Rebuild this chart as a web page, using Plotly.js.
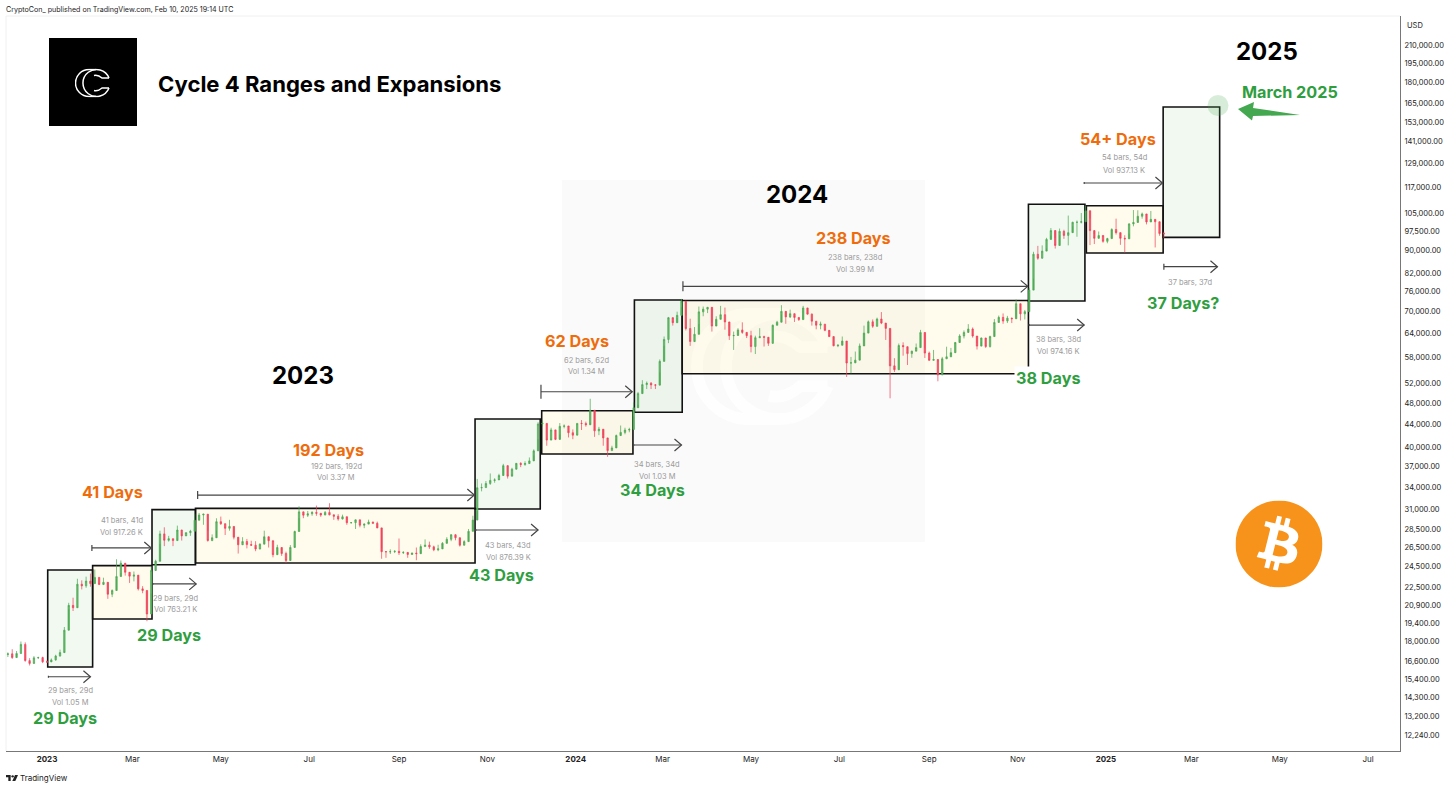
<!DOCTYPE html>
<html>
<head>
<meta charset="utf-8">
<script src="https://cdn.plot.ly/plotly-3.0.1.min.js"></script>
<style>body{margin:0;background:#fff}</style>
</head>
<body>
<div id="graphDiv" style="width:1456px;height:788px"></div>
<script>
// BTCUSD cycle 4 ranges, 3 day candles
const candleStart = '2022-12-05'
const candleFirstOpen = 17050
const candleClose = [
17100,16840,17130,17780,16630,16440,16820,16840,16550,16540,
16680,16950,17190,18850,20880,20680,22780,22630,23080,22840,
23430,22760,22960,21860,22200,23520,24840,23930,23550,23650,
22350,22200,20150,24110,25040,28030,27300,27480,27270,28480,
27800,28170,28330,29650,30300,30400,27270,27590,29480,29230,
28680,28900,27650,26800,27160,26820,26750,26340,26870,27700,
27250,25730,26500,25850,25120,26510,28310,30690,30270,30450,
30620,30510,30290,30620,30320,30140,29800,30080,29350,29360,
29700,29050,29180,29430,29280,28730,26050,26040,26050,26090,
25940,25970,25750,25900,25840,26600,26760,26570,26250,26350,
26960,27410,27930,27590,26750,27150,28330,29670,33900,33920,
34500,34940,35010,35650,37130,35550,36590,37480,37300,37450,
37860,39460,44080,44180,41250,43020,41370,43650,43720,42520,
42100,44180,44160,43940,46630,42850,43140,41620,39500,39940,
42030,42580,42990,43090,47130,49960,51840,52130,51780,51730,
57050,62440,68300,66900,68960,73080,65300,61900,63780,69950,
70740,71280,65980,67840,69140,67110,63420,63470,64940,64280,
63420,60640,62890,63160,63000,61470,66200,67040,70100,68520,
69430,68360,67760,71090,69300,67320,66220,66500,64830,63180,
60840,60970,62030,56660,56700,57340,60800,64100,67150,65930,
67900,66800,65350,56000,55120,60900,60600,58900,59500,60380,
64250,59030,57300,57480,53950,57650,58130,59130,61660,63340,
64270,65180,63330,60750,62820,60630,63190,66960,68390,67360,
68170,68000,72340,69380,70020,76510,88700,87250,89850,94290,
97780,91960,97460,95860,96950,101170,101170,101400,106100,97760,
94700,95800,93530,94590,98220,96950,94700,94500,100500,101100,
103700,104700,101300,102400,101400,96600,96500]
const candleHigh = [
17200,17430,17300,17990,17930,16800,16940,16900,16900,16640,
16780,17040,17400,19100,21100,21550,23300,23150,23500,23800,
24200,23450,23400,21900,22300,25250,25120,24600,23700,24000,
22400,22600,20350,24500,25200,28400,28800,27800,27500,29000,
28500,28200,28500,30450,30550,30450,28400,27970,29890,30100,
29250,29700,27800,27050,27650,27450,27250,27200,26950,28400,
27300,27100,26800,26200,26050,26770,28400,31400,30650,30800,
30780,31500,30400,30800,31800,30340,30400,30340,29680,29420,
29730,29300,29250,29720,29480,29480,26400,26120,26300,26200,
27500,26100,25880,25950,26500,26850,27400,27150,26700,26800,
27100,27650,28000,27990,26850,27300,28600,30200,35150,34500,
34850,35950,35250,35900,37400,37000,36800,37500,37650,37800,
38400,39700,44400,44700,43800,43400,42700,44250,44000,43600,
43100,44200,44800,44500,48900,43000,43550,42100,41400,40300,
42200,43800,43400,43400,48200,50300,52800,52500,52400,51950,
57500,63200,68500,67900,70000,73780,68900,68000,65700,71500,
71500,71300,66900,68700,71700,71200,66800,64500,65400,67000,
63900,64700,63400,65400,63400,61800,66400,67400,71900,69200,
70600,69500,68400,71700,69500,69500,67300,67200,66500,64500,
62400,61200,63200,57500,58100,59400,61400,66100,67500,67800,
68300,69900,65600,60400,57800,61400,61700,59800,59600,61400,
64950,60200,59400,59800,57000,58100,60600,60300,61800,63800,
64800,66500,65600,61400,62900,62500,63400,67900,68900,69500,
68800,68300,73600,70500,70500,77200,89600,91800,92000,94900,
98800,94900,98600,98100,104000,101400,101900,105100,108300,102800,
96400,97400,95200,94900,98700,102700,95800,95900,100800,106400,
106300,105300,103700,106000,102500,99000,97300]
const candleLow = [
16880,16750,17060,17100,16560,16300,16500,16750,16460,16470,
16540,16620,16900,17300,20550,20400,20800,22300,22450,22550,
23250,22700,22700,21450,21600,23300,23850,23600,22900,23050,
22200,21950,19560,21900,24150,26900,26650,27150,26650,27500,
27270,27850,27800,29600,30220,29100,27150,27200,28400,29080,
27900,28400,27400,25850,26870,26400,26700,26100,26300,27600,
26500,25450,26300,25600,24850,26170,26650,29900,29900,30050,
30200,30200,30070,30330,30250,29700,29600,29750,29100,29250,
28600,28800,28700,29330,29240,28700,25300,25400,25800,25900,
25700,25800,25400,25800,25150,26200,26600,26350,26100,26100,
26860,27200,27200,27300,26600,26800,28200,29500,30800,33400,
33900,34300,34600,35100,36800,35200,35900,36700,36900,37100,
37600,38700,41400,43600,40300,41500,41250,42200,43300,41700,
41400,42200,43000,43600,44300,41800,42100,40300,38500,39500,
41500,42300,42250,42600,45500,47700,51300,50900,50900,50900,
54500,60800,61500,66100,68200,71300,64800,60800,62200,66500,
68700,69600,64500,67450,68300,65000,62300,59800,64500,63900,
62800,59200,58800,62800,60650,60800,61300,66600,69200,66600,
68200,67100,67400,70400,69200,66100,65100,65100,64600,63100,
60700,60500,61800,53500,54300,57100,59500,63900,66400,65500,
65800,66500,62300,49000,54600,60300,58400,56200,57900,59800,
63800,57850,57200,57200,52550,54600,57650,59000,59200,62400,
62700,64800,62900,59900,61800,60300,60400,64700,67400,66600,
66800,66800,71500,67500,67800,75600,80200,86700,87100,90800,
95800,90800,95900,94500,92000,99500,95300,100700,105300,92100,
92500,95200,93000,92800,97800,96200,92200,89300,96500,99500,
103100,102700,100300,101600,91200,95700,94800]

// range and expansion boxes
const boxKind = ['up','range','up','range','up','range','up','range','up','range','up']
const boxStart = ['2023-01-01 12:00','2023-02-01 12:00','2023-03-14 12:00','2023-04-13 12:00','2023-10-23 12:00','2023-12-08 12:00','2024-02-10 12:00','2024-03-14 12:00','2024-11-08 12:00','2024-12-18 12:00','2025-02-09 12:00']
const boxEnd = ['2023-02-01 12:00','2023-03-14 12:00','2023-04-13 12:00','2023-10-23 12:00','2023-12-07 12:00','2024-02-09 12:00','2024-03-14 12:00','2024-11-08 12:00','2024-12-17 12:00','2025-02-09 12:00','2025-03-20 12:00']
const boxTop = [24155,24590,30980,31130,44990,46550,73450,73300,108950,108320,162650]
const boxBottom = [16195,19740,24690,24860,31050,38960,46250,54210,73140,89150,95080]

// date range rulers
const rulerStart = ['2023-01-02','2023-02-01','2023-03-15','2023-04-15','2023-10-24','2023-12-08','2024-02-10','2024-03-15','2024-11-09','2024-12-17','2025-02-10']
const rulerEnd = ['2023-01-31','2023-03-14','2023-04-14','2023-10-23','2023-12-06','2024-02-09','2024-03-14','2024-11-08','2024-12-17','2025-02-09','2025-03-19']
const rulerPrice = [15560,26450,22810,32890,28480,50340,40420,77700,66260,118950,84260]
const rulerTail = [1,3,1,4,1,7,1,5,1,1,3]

const yTicks = [210000,195000,180000,165000,153000,141000,129000,117000,105000,97500,90000,82000,76000,70000,64000,58000,52000,48000,44000,40000,37000,34000,31000,28500,26500,24500,22500,20900,19400,18000,16600,15400,14300,13200,12240]
const xTicks = ['2023-01-01','2023-03-01','2023-05-01','2023-07-01','2023-09-01','2023-11-01','2024-01-01','2024-03-01','2024-05-01','2024-07-01','2024-09-01','2024-11-01','2025-01-01','2025-03-01','2025-05-01','2025-07-01']
const xLabels = ['<b>2023</b>','Mar','May','Jul','Sep','Nov','<b>2024</b>','Mar','May','Jul','Sep','Nov','<b>2025</b>','Mar','May','Jul']

const orange = '#ee6c0c'
const green = '#2f9e3f'
const gray = '#9a9a9a'
const bigLabels = [
    ['41 Days',113,492,orange],['192 Days',328,450,orange],['62 Days',577,341,orange],['238 Days',854,238,orange],['54+ Days',1118,139,orange],
    ['29 Days',65,718,green],['29 Days',169,635,green],['43 Days',501,575,green],['34 Days',652,490,green],['37 Days?',1183,303,green],['March 2025',1290,92,green]
]
const statLabels = [
    ['29 bars, 29d',70,690],['Vol 1.05 M',70,702],['41 bars, 41d',122,520,],['Vol 917.26 K',122,532],
    ['29 bars, 29d',175,598],['Vol 763.21 K',175,609],['192 bars, 192d',336,466],['Vol 3.37 M',336,477],
    ['43 bars, 43d',508,545],['Vol 876.39 K',508,557],['62 bars, 62d',586,360],['Vol 1.34 M',586,371],
    ['34 bars, 34d',657,464],['Vol 1.03 M',657,476],['238 bars, 238d',855,257],['Vol 3.99 M',855,269],
    ['38 bars, 38d',1058,339],['Vol 974.16 K',1058,351],['54 bars, 54d',1124,158],['Vol 937.13 K',1124,170],['37 bars, 37d',1190,282]
]
const yearLabels = [['2023',303,375],['2024',797,195],['2025',1267,51]]

// plot box in page pixels, only used to place the drawing tool texts
const W = 1456, H = 788, mL = 6, mR = 56, mT = 16, mB = 37
const px = x => (x - mL) / (W - mL - mR)
const py = y => 1 - (y - mT) / (H - mT - mB)
const fam = 'Inter, "Liberation Sans", sans-serif'

let candleDates = candleClose.map((_, i) => {
    let d = new Date(candleStart + 'T00:00:00Z')
    d.setUTCDate(d.getUTCDate() + i * 3)
    return d.toISOString().slice(0, 10)
})
let candleOpen = [candleFirstOpen, ...candleClose.slice(0, -1)]

function note(text, x, y, size, color, anchor='center', extra={}) {
    return Object.assign({
        text: text, x: px(x), y: py(y), xref: 'paper', yref: 'paper', showarrow: false,
        xanchor: anchor, yanchor: 'middle', font: {family: fam, size: size, color: color}
    }, extra)
}

let annotations = []
bigLabels.forEach(l => annotations.push(note(`<b>${l[0]}</b>`, l[1], l[2], 16.2, l[3])))
annotations.push(note('<b>38 Days</b>', 1048, 378, 16.2, green, 'center', {bgcolor: '#fff', borderpad: 1}))
statLabels.forEach(l => annotations.push(note(l[0], l[1], l[2], 7.5, gray)))
yearLabels.forEach(l => annotations.push(note(`<b>${l[0]}</b>`, l[1], l[2], 24, '#000')))
annotations.push(note('<b>Cycle 4 Ranges and Expansions</b>', 156, 84, 22.1, '#000', 'left'))
annotations.push(note('CryptoCon_ published on TradingView.com, Feb 10, 2025 19:14 UTC', 4, 9, 7.1, '#222', 'left'))
annotations.push(note('TradingView', 18, 778, 8, '#222', 'left'))
annotations.push(note('USD', 1405, 25, 7.5, '#222', 'left'))

let shapes = []
// faint frame of the published picture
shapes.push({type: 'line', xref: 'paper', yref: 'paper', x0: 0, x1: 1, y0: 1, y1: 1, line: {color: '#f0f0f0', width: 1}})
shapes.push({type: 'line', xref: 'paper', yref: 'paper', x0: 0, x1: 0, y0: 0, y1: 1, line: {color: '#f0f0f0', width: 1}})

boxKind.forEach((k, i) => {
    shapes.push({
        type: 'rect', x0: boxStart[i], x1: boxEnd[i], y0: boxBottom[i], y1: boxTop[i], layer: 'below',
        fillcolor: k == 'up' ? 'rgba(76,175,80,0.08)' : 'rgba(255,193,7,0.07)',
        line: {color: '#111', width: 1.6}
    })
})

rulerStart.forEach((s, i) => {
    let c = {color: '#444', width: 1.2}
    shapes.push({type: 'line', x0: s, x1: rulerEnd[i], y0: rulerPrice[i], y1: rulerPrice[i], line: c})
    shapes.push({type: 'path', xsizemode: 'pixel', ysizemode: 'pixel', xanchor: rulerEnd[i], yanchor: rulerPrice[i], path: 'M-7,-6 L0,0 L-7,6', line: c})
    shapes.push({type: 'path', xsizemode: 'pixel', ysizemode: 'pixel', xanchor: s, yanchor: rulerPrice[i], path: `M0,-${rulerTail[i]} L0,${rulerTail[i]}`, line: c})
})

// target marker and arrow for March 2025
shapes.push({type: 'circle', xref: 'paper', yref: 'paper', xsizemode: 'pixel', ysizemode: 'pixel', xanchor: px(1218), yanchor: py(105.5), x0: -10.5, x1: 10.5, y0: -10.5, y1: 10.5, fillcolor: 'rgba(76,175,80,0.22)', line: {width: 0}})
shapes.push({type: 'path', xref: 'paper', yref: 'paper', xsizemode: 'pixel', ysizemode: 'pixel', xanchor: px(1238), yanchor: py(109), path: 'M0,0 L16,7 L15,1 L62,-6 L15,-7 L14,-11.5 Z', fillcolor: '#43a84f', line: {width: 0}})

// logos
function svgUrl(svg) {
    return 'data:image/svg+xml;charset=utf-8,' + encodeURIComponent(svg)
}
function ccPaths(color, stroke) {
    return `<g fill="none" stroke="${color}" stroke-width="${stroke}" stroke-linejoin="round">
<path d="M21,1 L14,1 A13.5,13.5 0 0 0 14,28 L21,28"/>
<path d="M34,9.5 A13.5,13.5 0 1 0 34,19.5"/>
<path d="M34,9.5 L27,9.5 Q23,6 19,7"/><path d="M34,19.5 L27,19.5 Q23,23 19,22"/></g>`
}
const watermark = svgUrl(`<svg xmlns="http://www.w3.org/2000/svg" viewBox="0 0 363 362"><rect width="363" height="362" fill="#fafafa"/><g transform="translate(133,130) scale(3.9)">${ccPaths('#fefefe', 3)}</g></svg>`)
const ccSmall = svgUrl(`<svg xmlns="http://www.w3.org/2000/svg" viewBox="0 0 36 29">${ccPaths('#ffffff', 1.5)}</svg>`)
const btc = svgUrl(`<svg xmlns="http://www.w3.org/2000/svg" viewBox="0 0 64 64"><path fill="#f7931a" d="M63.04 39.741c-4.274 17.143-21.638 27.575-38.783 23.301C7.12 58.768-3.313 41.404.962 24.262 5.234 7.117 22.597-3.317 39.737.957c17.144 4.274 27.576 21.64 23.302 38.784z"/><path fill="#fff" d="M46.11 27.441c.636-4.258-2.606-6.547-7.039-8.074l1.438-5.768-3.512-.875-1.4 5.616c-.922-.23-1.87-.447-2.812-.662l1.41-5.653-3.509-.875-1.439 5.766c-.764-.174-1.514-.346-2.242-.527l.004-.018-4.842-1.209-.934 3.75s2.605.597 2.55.634c1.422.355 1.68 1.296 1.636 2.042l-1.638 6.571c.098.025.225.061.365.117l-.37-.092-2.297 9.205c-.174.432-.615 1.08-1.609.834.035.051-2.552-.637-2.552-.637l-1.743 4.02 4.57 1.139c.85.213 1.683.436 2.502.646l-1.453 5.835 3.507.875 1.44-5.772c.957.26 1.887.5 2.797.726L27.504 50.8l3.511.875 1.453-5.823c5.987 1.133 10.49.676 12.383-4.738 1.527-4.36-.075-6.875-3.225-8.516 2.294-.531 4.022-2.04 4.483-5.157zM38.087 38.69c-1.086 4.36-8.426 2.004-10.807 1.412l1.928-7.729c2.38.594 10.011 1.77 8.88 6.317zm1.085-11.312c-.99 3.966-7.1 1.951-9.083 1.457l1.748-7.01c1.983.494 8.367 1.416 7.335 5.553z"/></svg>`)
const tvLogo = svgUrl(`<svg xmlns="http://www.w3.org/2000/svg" viewBox="0 0 36 18"><path fill="#222" d="M0 0H14V18H7V7H0Z"/><circle cx="20" cy="4" r="3.6" fill="#222"/><path fill="#222" d="M27 0H36L28 18H19Z"/></svg>`)
const blackTile = svgUrl(`<svg xmlns="http://www.w3.org/2000/svg" viewBox="0 0 10 10"><rect width="10" height="10" fill="#000"/></svg>`)

function pic(source, x, y, w, h, layer='above') {
    return {source: source, xref: 'paper', yref: 'paper', x: px(x), y: py(y),
        sizex: w / (W - mL - mR), sizey: h / (H - mT - mB), xanchor: 'left', yanchor: 'top', sizing: 'stretch', layer: layer}
}
let images = [
    pic(watermark, 562, 180, 363, 362, 'below'),
    pic(blackTile, 49, 38, 88, 88),
    pic(ccSmall, 75, 68.5, 36, 29),
    pic(btc, 1235.5, 500.5, 87, 87),
    pic(tvLogo, 6, 775, 12, 6)
]

let candles = {
    type: 'candlestick',
    x: candleDates, open: candleOpen, high: candleHigh, low: candleLow, close: candleClose,
    increasing: {line: {color: '#47a64f', width: 0.7}, fillcolor: '#6dbb72'},
    decreasing: {line: {color: '#ef4058', width: 0.7}, fillcolor: '#f0566c'},
    whiskerwidth: 0,
    hoverinfo: 'skip'
}

const layout = {
    width: W, height: H,
    margin: {l: mL, r: mR, t: mT, b: mB, pad: 0},
    paper_bgcolor: '#fff', plot_bgcolor: 'rgba(0,0,0,0)',
    showlegend: false,
    boxgap: 0.55,
    xaxis: {
        type: 'date', range: ['2022-12-03 17:00', '2025-07-23'],
        rangeslider: {visible: false},
        tickmode: 'array', tickvals: xTicks, ticktext: xLabels, ticks: '', showgrid: false, zeroline: false,
        showline: true, linecolor: '#777', linewidth: 1,
        tickfont: {family: fam, size: 8, color: '#222'}
    },
    yaxis: {
        type: 'log', side: 'right', range: [4.0592, 5.3741],
        tickmode: 'array', tickvals: yTicks, ticktext: yTicks.map(v => v.toLocaleString('en-US', {minimumFractionDigits: 2})),
        ticks: 'outside', ticklen: 2, tickcolor: 'rgba(0,0,0,0)', showgrid: false, zeroline: false,
        showline: true, linecolor: '#777', linewidth: 1,
        tickfont: {family: fam, size: 7.5, color: '#222'}
    },
    shapes: shapes, annotations: annotations, images: images
}

Plotly.newPlot('graphDiv', [candles], layout, {displayModeBar: false})
</script>
</body>
</html>
